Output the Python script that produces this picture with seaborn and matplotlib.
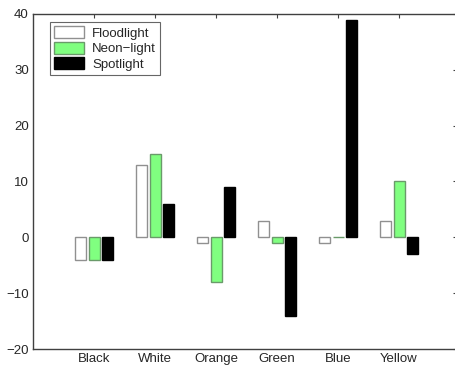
import matplotlib
matplotlib.use('Agg')
import matplotlib.pyplot as plt
import pandas as pd
import seaborn as sns

# ====== Data ======
categories = ["Black", "White", "Orange", "Green", "Blue", "Yellow"]
floodlight = [-4, 13, -1, 3, -1, 3]
neon_light = [-4, 15, -8, -1, 0, 10]
spotlight = [-4, 6, 9, -14, 39, -3]
series_names = ["Floodlight", "Neon\u2212light", "Spotlight"]
series_colors = ["#ffffff", "#80ff80", "#000000"]
edge_colors = ["#909090", "#6a9a6a", "#000000"]

df = pd.DataFrame({
    "category": categories * 3,
    "value": floodlight + neon_light + spotlight,
    "series": [s for s in series_names for _ in categories],
})

# ====== Plot ======
sns.set_style("white")
plt.rcParams['font.family'] = ['Liberation Sans', 'DejaVu Sans']

fig = plt.figure(figsize=(4.56, 3.67), dpi=100)
# right edge of the box sits just past the picture edge, as in the original
ax = fig.add_axes([33 / 456, 18 / 367, 424 / 456, 335 / 367])

sns.barplot(data=df, x="category", y="value", hue="series",
            order=categories, hue_order=series_names,
            palette=series_colors, width=0.667, gap=0.19,
            edgecolor="#808080", linewidth=1.0, saturation=1, ax=ax)

# edge colour per series (bar containers are in hue order)
for cont, ec in zip(ax.containers, edge_colors):
    for bar in cont:
        bar.set_edgecolor(ec)

ax.set_xlim(-1, 5.95)
ax.set_ylim(-20, 40)
ax.set_yticks([-20, -10, 0, 10, 20, 30, 40])
ax.set_yticklabels(["\u221220", "\u221210", "0", "10", "20", "30", "40"])
ax.set_xlabel("")
ax.set_ylabel("")

for name, sp in ax.spines.items():
    sp.set_visible(name != "right")
    sp.set_color("#404040")
    sp.set_linewidth(1.0)
ax.tick_params(direction="in", length=3, width=0.8, color="#404040",
               top=True, right=True, labelsize=9.5, pad=3)

leg = ax.legend(loc="upper left", bbox_to_anchor=(0.04, 0.975),
                fontsize=9.5, frameon=True, fancybox=False,
                borderpad=0.3, labelspacing=0.15, handlelength=2.3,
                handleheight=1.0, handletextpad=0.6, borderaxespad=0)
leg.get_frame().set_edgecolor("#404040")
leg.get_frame().set_linewidth(0.8)
for h, ec in zip(leg.legend_handles, edge_colors):
    h.set_edgecolor(ec)

fig.savefig("out.png", dpi=100)
